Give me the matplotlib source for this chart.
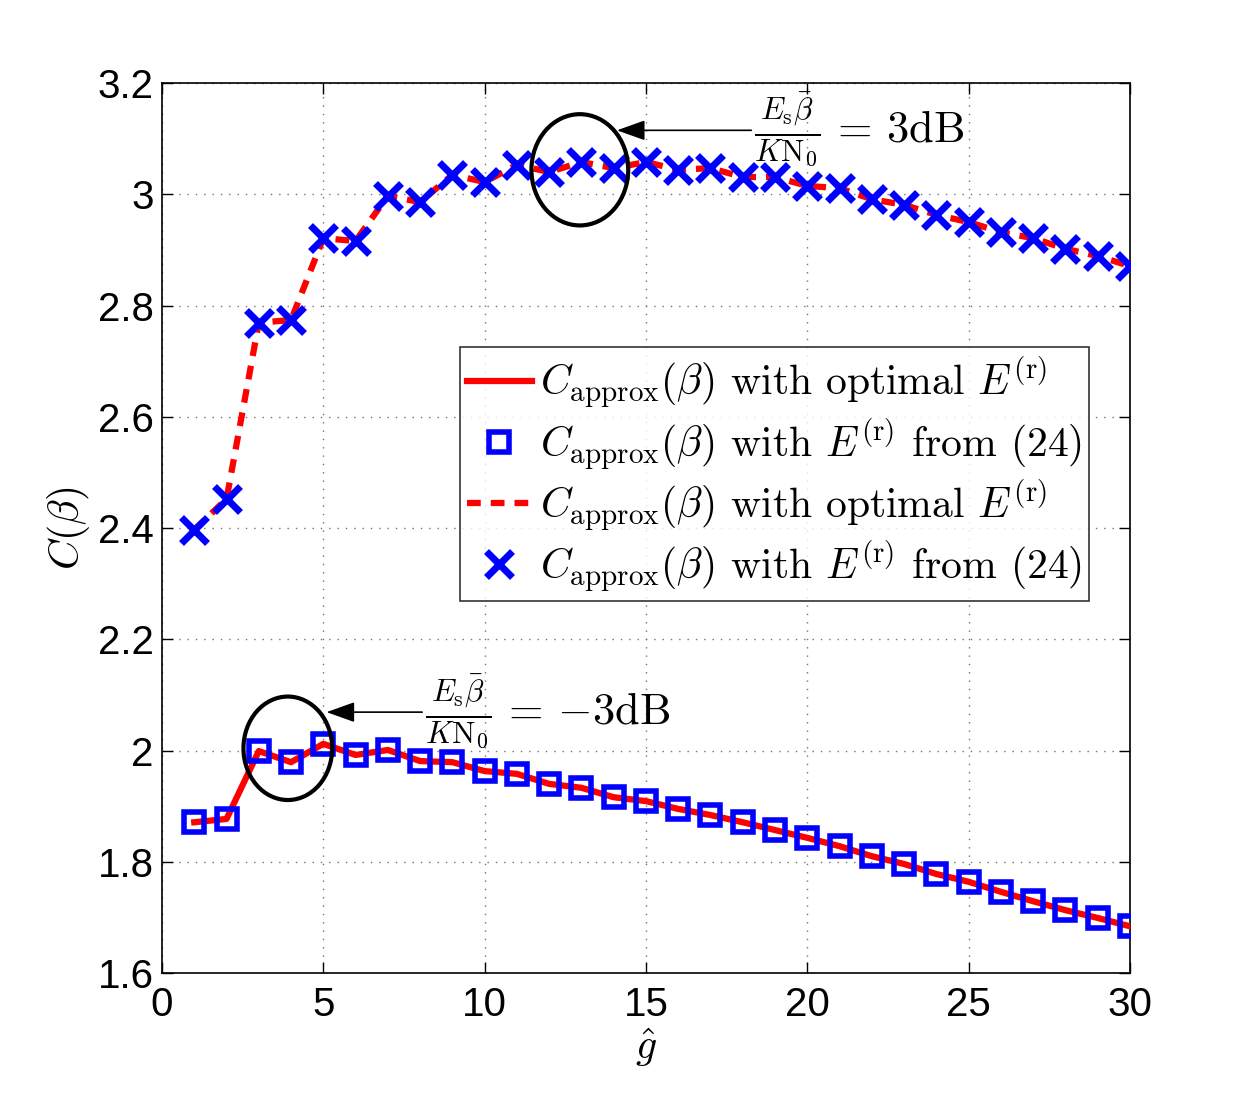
import matplotlib
matplotlib.use('Agg')
import matplotlib.pyplot as plt
from matplotlib.patches import Ellipse

# =========================
# DATA
# =========================
g_hat = list(range(1, 31))

# Es*beta/(K N0) = 3 dB
c_high = [2.397, 2.452, 2.769, 2.774, 2.921, 2.916, 2.997, 2.986, 3.035, 3.022,
          3.053, 3.040, 3.058, 3.047, 3.058, 3.044, 3.047, 3.031, 3.031, 3.015,
          3.011, 2.991, 2.981, 2.963, 2.950, 2.932, 2.921, 2.902, 2.889, 2.871]

# Es*beta/(K N0) = -3 dB
c_low = [1.871, 1.877, 1.999, 1.979, 2.012, 1.992, 2.001, 1.981, 1.979, 1.963,
         1.958, 1.940, 1.933, 1.916, 1.909, 1.895, 1.884, 1.871, 1.857, 1.843,
         1.828, 1.810, 1.796, 1.778, 1.764, 1.746, 1.729, 1.713, 1.699, 1.684]

x_ticks = [0, 5, 10, 15, 20, 25, 30]
y_ticks = [1.6, 1.8, 2.0, 2.2, 2.4, 2.6, 2.8, 3.0, 3.2]
y_tick_labels = ['1.6', '1.8', '2', '2.2', '2.4', '2.6', '2.8', '3', '3.2']

lbl_opt = r'$C_{\mathrm{approx}}(\beta)$ with optimal $E^{(\mathrm{r})}$'
lbl_24 = r'$C_{\mathrm{approx}}(\beta)$ with $E^{(\mathrm{r})}$ from (24)'

# =========================
# STYLE
# =========================
plt.rcParams['mathtext.fontset'] = 'cm'
plt.rcParams['font.family'] = ['Liberation Sans', 'DejaVu Sans']

fig = plt.figure(figsize=(12.48, 10.94), dpi=100)
ax = fig.add_axes([0.1298, 0.1106, 0.7756, 0.8135])

# =========================
# PLOT
# =========================
ax.plot(g_hat, c_low, '-', color='red', lw=4.5, label=lbl_opt, zorder=3)
ax.plot(g_hat, c_low, 's', color='blue', ms=15, mew=4, mfc='none',
        label=lbl_24, zorder=4)
ax.plot(g_hat, c_high, '--', color='red', lw=4.5, dashes=(2.2, 1.6),
        label=lbl_opt, zorder=3)
ax.plot(g_hat, c_high, 'x', color='blue', ms=19, mew=5, label=lbl_24, zorder=4)

ax.set_xlim(0, 30)
ax.set_ylim(1.6, 3.2)
ax.set_xticks(x_ticks)
ax.set_yticks(y_ticks)
ax.set_yticklabels(y_tick_labels)
ax.tick_params(direction='in', length=8, width=1, labelsize=29,
               top=True, right=True, pad=6)
ax.tick_params(axis='x', pad=9)
ax.grid(True, linestyle=(0, (1, 5)), color='0.45', lw=1)
for s in ax.spines.values():
    s.set_linewidth(1.2)

ax.set_xlabel(r'$\hat{g}$', fontsize=30, labelpad=2)
ax.set_ylabel(r'$C(\beta)$', fontsize=30, labelpad=4)

# circles + arrows
ax.add_patch(Ellipse((12.95, 3.044), 3.0, 0.2, fill=False, lw=3,
                     color='black', zorder=5))
ax.add_patch(Ellipse((3.9, 2.004), 2.75, 0.186, fill=False, lw=3,
                     color='black', zorder=5))

arrow = dict(arrowstyle='-|>,head_length=0.7,head_width=0.25', color='black',
             lw=1.2, mutation_scale=25, shrinkA=0, shrinkB=0)
ax.annotate(r'$\frac{E_{\mathrm{s}}\bar{\beta}}{K\mathrm{N}_0}\,=\,3\mathrm{dB}$',
            xy=(14.1, 3.115), xytext=(18.35, 3.115), fontsize=32,
            va='center', ha='left', arrowprops=arrow)
ax.annotate(r'$\frac{E_{\mathrm{s}}\bar{\beta}}{K\mathrm{N}_0}\,=\,{-3}\mathrm{dB}$',
            xy=(5.1, 2.069), xytext=(8.15, 2.069), fontsize=32,
            va='center', ha='left', arrowprops=arrow)

leg = ax.legend(loc='upper left', bbox_to_anchor=(0.308, 0.703),
                frameon=True, fancybox=False, edgecolor='black',
                handlelength=1.55, handletextpad=0.2, borderpad=0.17,
                labelspacing=0.13, borderaxespad=0,
                prop={'family': ['cmr10', 'DejaVu Serif'], 'size': 30})
leg.get_frame().set_linewidth(1.2)

plt.savefig('out.png', dpi=100)
